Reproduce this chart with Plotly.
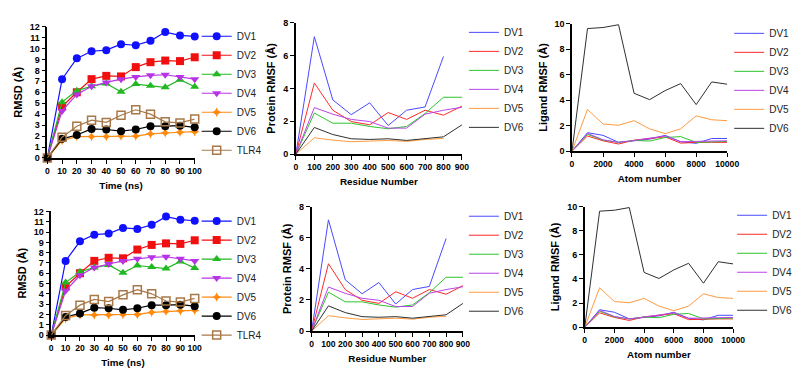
import plotly.graph_objects as go

W, H = 800, 368

# ---------------- data ----------------
time_ns = [0, 10, 20, 30, 40, 50, 60, 70, 80, 90, 100]
rmsd_dv1 = [0, 7.2, 9.1, 9.75, 9.85, 10.4, 10.3, 10.7, 11.5, 11.2, 11.1]
rmsd_dv2 = [0, 4.7, 6.0, 7.2, 7.5, 7.45, 8.3, 8.75, 8.9, 8.85, 9.2]
rmsd_dv3 = [0, 5.1, 6.15, 6.55, 6.8, 6.05, 6.75, 6.6, 6.45, 7.15, 6.5]
rmsd_dv4 = [0, 4.3, 5.8, 6.55, 6.9, 7.2, 7.4, 7.55, 7.6, 7.4, 7.2]
rmsd_dv5 = [0, 1.6, 1.95, 1.95, 1.95, 2.0, 2.0, 2.2, 2.3, 2.35, 2.4]
rmsd_dv6 = [0, 1.75, 2.1, 2.65, 2.6, 2.45, 2.6, 2.9, 2.9, 2.95, 2.8]
rmsd_tlr4 = [0, 1.9, 2.9, 3.45, 3.25, 3.9, 4.4, 4.0, 3.3, 3.2, 3.55]

residues = [0, 100, 200, 300, 400, 500, 600, 700, 800, 900]
prot_dv1 = [0, 7.15, 3.3, 2.4, 3.12, 1.74, 2.67, 2.87, 5.95]
prot_dv2 = [0, 4.33, 2.67, 1.98, 1.78, 2.53, 2.11, 2.67, 2.37, 2.92]
prot_dv3 = [0, 2.5, 1.88, 1.88, 1.68, 1.54, 1.68, 2.47, 3.46, 3.46]
prot_dv4 = [0, 2.83, 2.43, 2.11, 1.98, 1.58, 1.58, 2.43, 2.67, 2.85]
prot_dv5 = [0, 0.99, 0.85, 0.75, 0.79, 0.83, 0.77, 0.89, 0.95]
prot_dv6 = [0, 1.62, 1.19, 0.93, 0.89, 0.93, 0.83, 0.93, 1.05, 1.78]

atoms = [0, 1000, 2000, 3000, 4000, 5000, 6000, 7000, 8000, 9000, 10000]
lig_dv1 = [0, 1.45, 1.24, 0.69, 0.81, 0.94, 1.24, 0.74, 0.61, 0.99, 0.99]
lig_dv2 = [0, 1.19, 0.81, 0.56, 0.86, 0.99, 1.12, 0.63, 0.69, 0.69, 0.69]
lig_dv3 = [0, 1.32, 0.86, 0.69, 0.84, 0.79, 1.07, 1.14, 0.69, 0.74, 0.76]
lig_dv4 = [0, 1.40, 0.89, 0.69, 0.84, 0.99, 1.19, 0.74, 0.74, 0.79, 0.81]
lig_dv5 = [0, 3.27, 2.13, 2.03, 2.39, 1.75, 1.37, 1.75, 2.77, 2.46, 2.39]
lig_dv6 = [0, 9.62, 9.70, 9.92, 4.54, 4.04, 4.75, 5.30, 3.65, 5.43, 5.25]

rmsd_names = ["DV1", "DV2", "DV3", "DV4", "DV5", "DV6", "TLR4"]
rmsf_names = ["DV1", "DV2", "DV3", "DV4", "DV5", "DV6"]

rmsd_yticks = list(range(0, 13))
prot_yticks = [0, 2, 4, 6, 8]
lig_yticks = [0, 2, 4, 6, 8, 10]
lig_xticks = [0, 2000, 4000, 6000, 8000, 10000]

# ---------------- styles ----------------
rmsd_colors = ["#1010ff", "#f01010", "#22b822", "#b833e6", "#ff8a10", "#000000", "#a87848"]
rmsd_symbols = ["circle", "square", "triangle-up", "triangle-down", "star-diamond", "circle", "square-open"]
rmsd_sizes = [8, 8, 8, 8, 7, 8, 8]
rmsf_colors = ["#4a4aff", "#ff2a2a", "#2ec42e", "#b845e8", "#ff9a40", "#303030"]

FONT = "Liberation Sans, Arial, sans-serif"

def px_x(p):
    return p / W

def px_y(p):
    return 1 - p / H

# panel geometry (pixels): x0, x1, ybottom, ytop
panels = {
    1: (38, 188, 149, 14),
    2: (291, 460, 145, 10),
    3: (572, 730, 142, 11),
    4: (42, 188, 331, 204),
    5: (307, 461, 327, 199),
    6: (585, 736, 323, 199),
}
# legend top-left corners (pixels)
legend_pos = {1: (190, 9), 2: (462, 5), 3: (732, 6), 4: (190, 199), 5: (462, 194), 6: (735, 193)}

fig = go.Figure()

rmsd_series = [rmsd_dv1, rmsd_dv2, rmsd_dv3, rmsd_dv4, rmsd_dv5, rmsd_dv6, rmsd_tlr4]
prot_series = [prot_dv1, prot_dv2, prot_dv3, prot_dv4, prot_dv5, prot_dv6]
lig_series = [lig_dv1, lig_dv2, lig_dv3, lig_dv4, lig_dv5, lig_dv6]

for row in range(2):
    base = row * 3
    # RMSD
    k = base + 1
    ax = "" if k == 1 else str(k)
    for i, (name, ys) in enumerate(zip(rmsd_names, rmsd_series)):
        fig.add_trace(go.Scatter(
            x=time_ns, y=ys, name=name, mode="lines+markers",
            line=dict(color=rmsd_colors[i], width=1.2),
            marker=dict(symbol=rmsd_symbols[i], size=rmsd_sizes[i], color=rmsd_colors[i],
                        line=dict(width=1.5 if rmsd_symbols[i].endswith("open") else 0, color=rmsd_colors[i])),
            xaxis="x" + ax, yaxis="y" + ax, legend="legend" + ax,
            cliponaxis=False))
    # Protein RMSF
    k = base + 2
    for i, (name, ys) in enumerate(zip(rmsf_names, prot_series)):
        fig.add_trace(go.Scatter(
            x=residues[:len(ys)], y=ys, name=name, mode="lines",
            line=dict(color=rmsf_colors[i], width=1),
            xaxis="x" + str(k), yaxis="y" + str(k), legend="legend" + str(k),
            cliponaxis=False))
    # Ligand RMSF
    k = base + 3
    for i, (name, ys) in enumerate(zip(rmsf_names, lig_series)):
        fig.add_trace(go.Scatter(
            x=atoms, y=ys, name=name, mode="lines",
            line=dict(color=rmsf_colors[i], width=1),
            xaxis="x" + str(k), yaxis="y" + str(k), legend="legend" + str(k),
            cliponaxis=False))

axis_common = dict(showgrid=False, zeroline=False, showline=True, linecolor="black", linewidth=1.5,
                   ticks="outside", ticklen=4, tickwidth=1.2, tickcolor="black", tickangle=0,
                   fixedrange=True)

xcfg = {
    "rmsd": dict(range=[0, 100], tickmode="array", tickvals=time_ns,
                 ticktext=[str(v) for v in time_ns], title_text="Time (ns)"),
    "prot": dict(range=[0, 900], tickmode="array", tickvals=residues,
                 ticktext=[str(v) for v in residues], title_text="Residue Number"),
    "lig": dict(range=[0, 10000], tickmode="array", tickvals=lig_xticks,
                ticktext=[str(v) for v in lig_xticks], title_text="Atom number"),
}
ycfg = {
    "rmsd": dict(range=[0, 12], tickmode="array", tickvals=rmsd_yticks,
                 ticktext=[str(v) for v in rmsd_yticks], title_text="RMSD (Å)"),
    "prot": dict(range=[0, 8], tickmode="array", tickvals=prot_yticks,
                 ticktext=[str(v) for v in prot_yticks], title_text="Protein RMSF (Å)"),
    "lig": dict(range=[0, 10], tickmode="array", tickvals=lig_yticks,
                ticktext=[str(v) for v in lig_yticks], title_text="Ligand RMSF (Å)"),
}
kinds = {1: "rmsd", 2: "prot", 3: "lig", 4: "rmsd", 5: "prot", 6: "lig"}

layout = dict(width=W, height=H, margin=dict(l=0, r=0, t=0, b=0),
              paper_bgcolor="white", plot_bgcolor="white", showlegend=True)

for k, (x0, x1, yb, yt) in panels.items():
    kind = kinds[k]
    sx = "" if k == 1 else str(k)
    xa = dict(axis_common, domain=[px_x(x0), px_x(x1)], anchor="y" + sx, **xcfg[kind])
    ya = dict(axis_common, domain=[px_y(yb), px_y(yt)], anchor="x" + sx, **ycfg[kind])
    xa["tickfont"] = dict(family=FONT, size=8.6, color="black", weight="bold")
    ya["tickfont"] = dict(family=FONT, size=9, color="black", weight="bold")
    xa["title_font"] = dict(family=FONT, size=9.8, color="black", weight="bold")
    ya["title_font"] = dict(family=FONT, size=11, color="black", weight="bold")
    xa["title_standoff"] = 7
    ya["title_standoff"] = 5
    layout["xaxis" + sx] = xa
    layout["yaxis" + sx] = ya
    lx, ly = legend_pos[k]
    layout["legend" + sx] = dict(x=px_x(lx), y=px_y(ly), xanchor="left", yanchor="top",
                                 bgcolor="rgba(0,0,0,0)", borderwidth=0,
                                 font=dict(family=FONT, size=10, color="#222"),
                                 tracegroupgap=0)

fig.update_layout(**layout)

fig.add_shape(type="line", xref="paper", yref="paper", x0=px_x(797), x1=px_x(797), y0=0, y1=1,
              line=dict(color="#d0d0d0", width=1))

fig.write_html("out.html")
